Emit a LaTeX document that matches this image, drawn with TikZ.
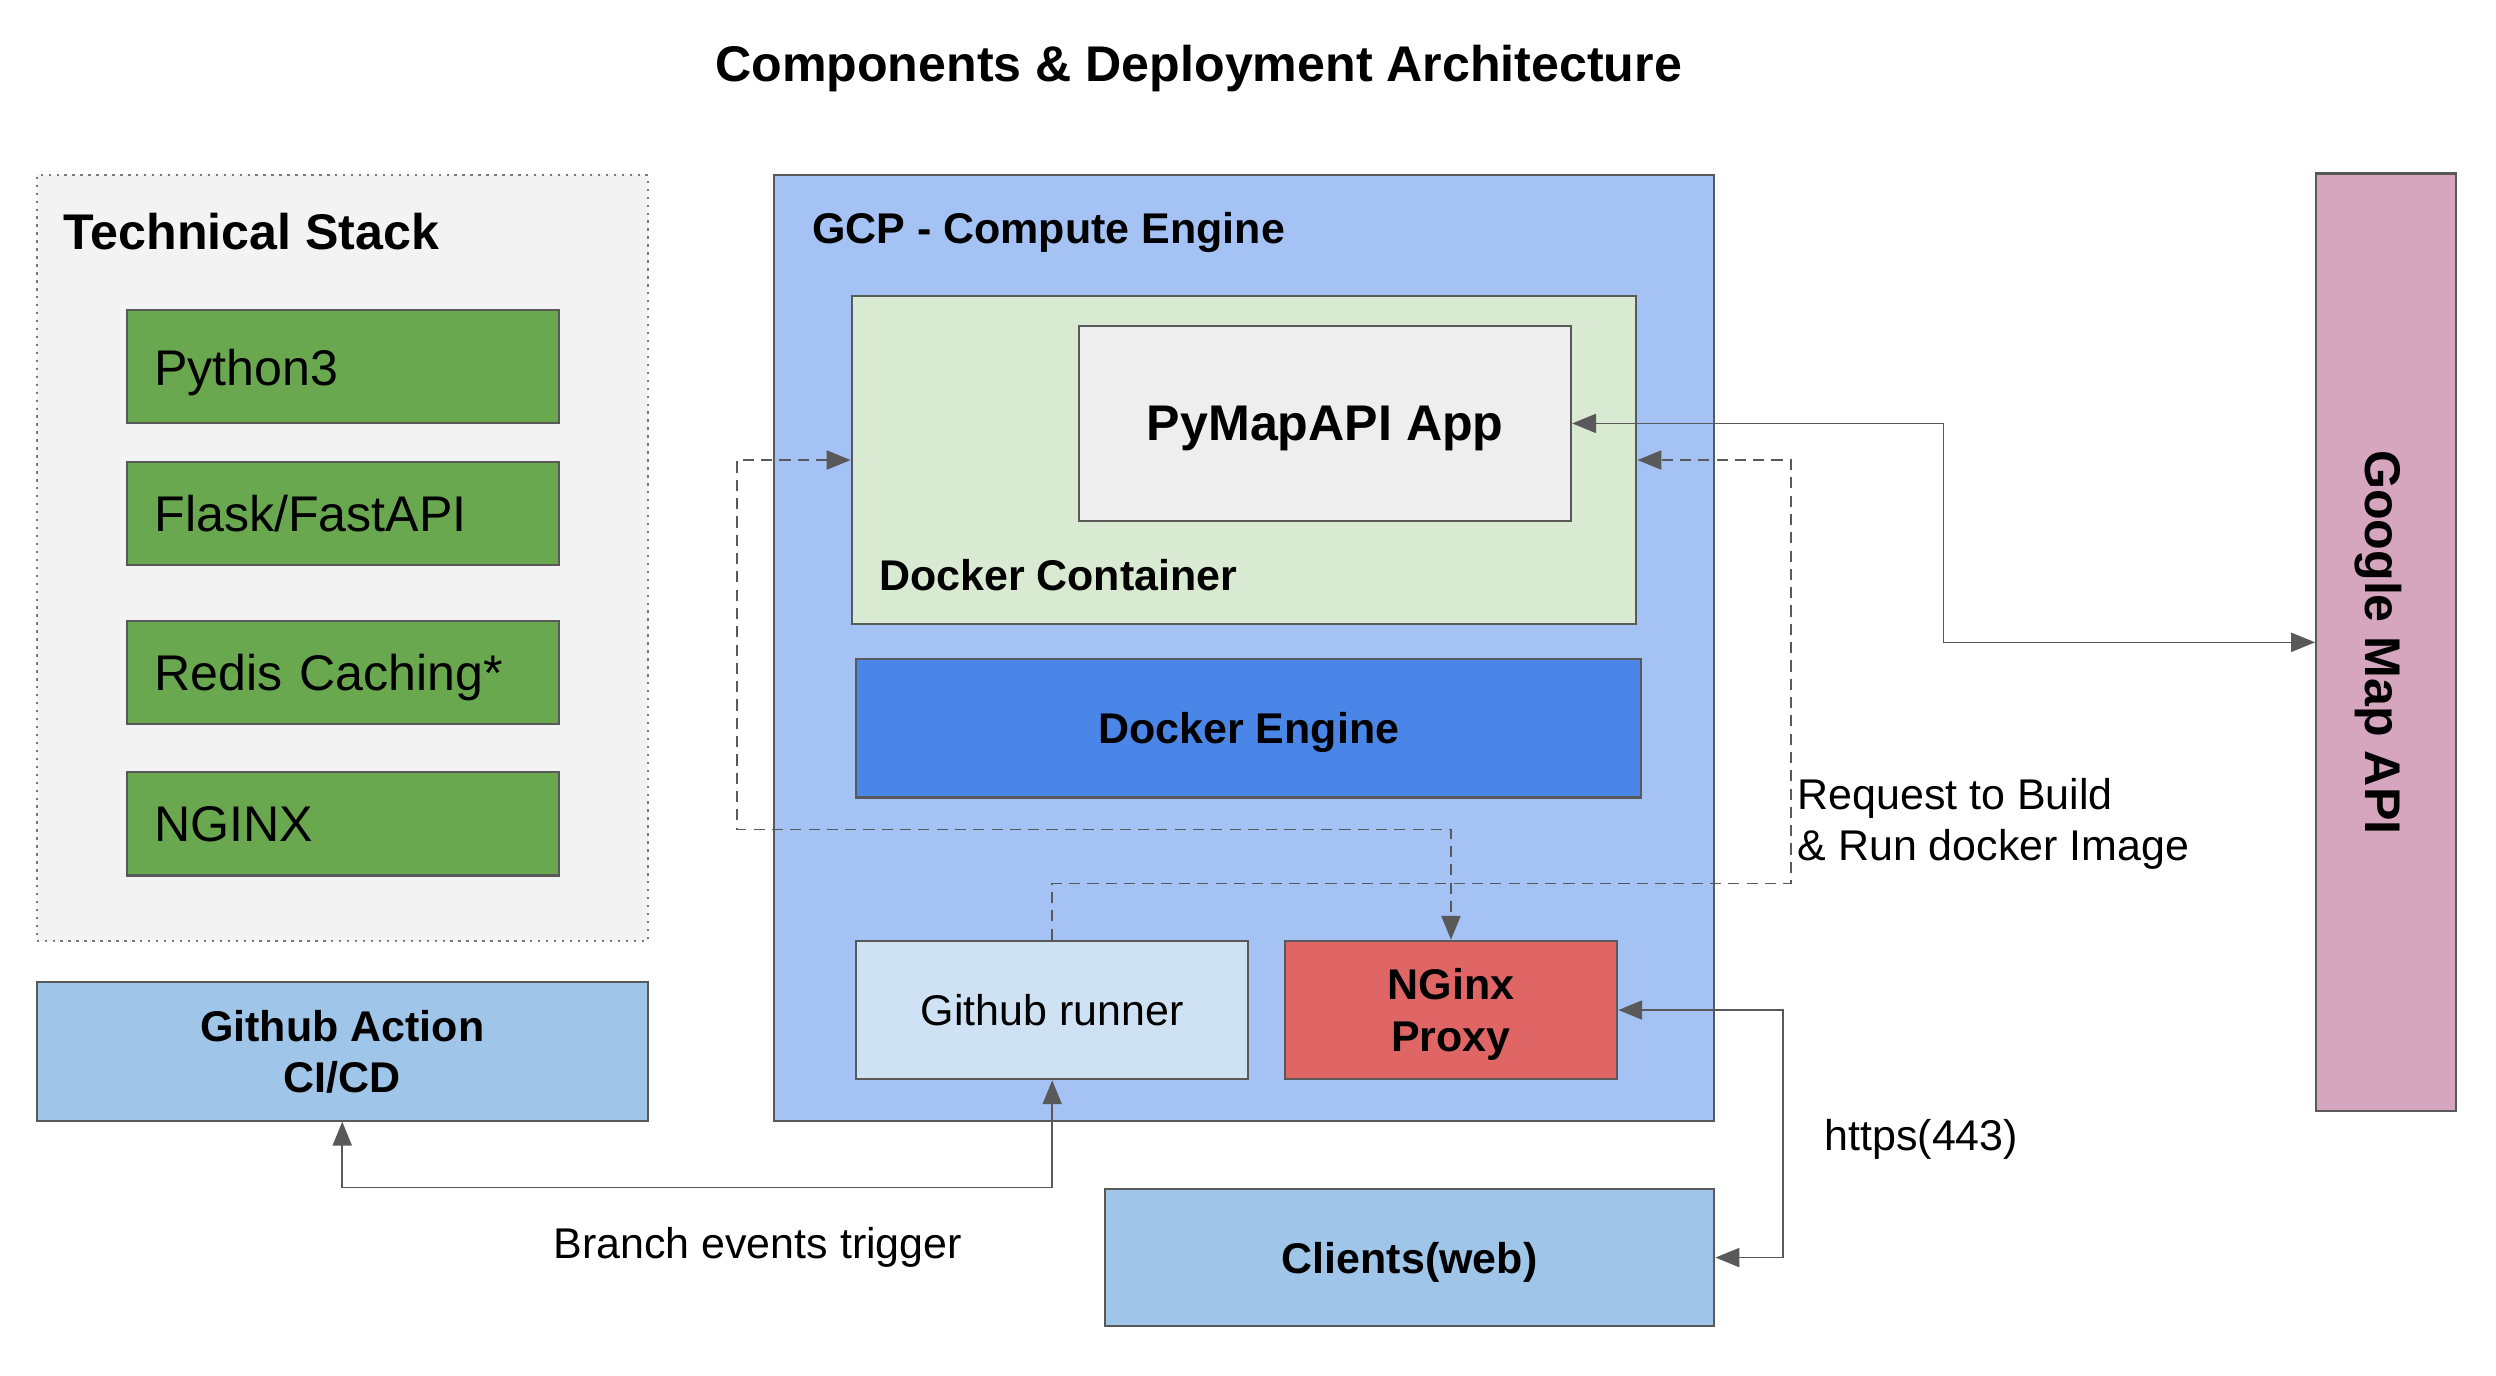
\documentclass[tikz,border=0pt]{standalone}
\usepackage{fontspec}
\setmainfont{Liberation Sans}
\usetikzlibrary{arrows.meta,positioning}

\definecolor{linegray}{HTML}{595959}
\definecolor{stackbg}{HTML}{F3F3F3}
\definecolor{stackgreen}{HTML}{6AA84F}
\definecolor{gcpblue}{HTML}{A4C2F4}
\definecolor{containergreen}{HTML}{D9EAD3}
\definecolor{appgray}{HTML}{EEEEEE}
\definecolor{engineblue}{HTML}{4A86E8}
\definecolor{runnerblue}{HTML}{CFE2F3}
\definecolor{proxyred}{HTML}{E06666}
\definecolor{clientblue}{HTML}{9FC5E8}
\definecolor{googlepink}{HTML}{D5A6BD}

\tikzset{
	box/.style={draw=linegray, line width=1.3pt, inner sep=0pt, text depth=0pt, align=center, font=\bfseries\fontsize{27}{32.5}\selectfont},
	stackitem/.style={box, fill=stackgreen, minimum width=271pt, text width=237pt, align=left, minimum height=65pt, font=\fontsize{31.5}{36}\selectfont},
	stackbox/.style={draw=linegray!80, fill=stackbg, line width=1.2pt, dash pattern=on 1.5pt off 3.5pt, inner sep=0pt},
	headtext/.style={inner sep=0pt, text depth=0pt, font=\bfseries\fontsize{31.5}{36}\selectfont},
	labeltext/.style={inner sep=0pt, align=left, font=\fontsize{27}{32}\selectfont},
	link/.style={draw=linegray, line width=1pt, >={Triangle[length=15pt,width=12pt]}},
	dashlink/.style={link, dash pattern=on 7pt off 4.5pt}
}

\begin{document}
\begin{tikzpicture}[x=1pt, y=-1pt]
	%%%%% START %%%%%
	\useasboundingbox (0, 0) rectangle (1568, 864.4);
	
	\node[headtext] (title) at (753, 40) {Components \& Deployment Architecture};
	
	% technical stack
	\node[stackbox, minimum width=384pt, minimum height=481pt] (stack) at (215, 350.5) {};
	\node[headtext, anchor=base west] (stacklabel) at (40, 157) {Technical Stack};
	\node[stackitem, minimum height=71pt] (python) at (215.5, 230.5) {Python3};
	\node[stackitem] (flask) at (215.5, 322.5) {Flask/FastAPI};
	\node[stackitem] (redis) at (215.5, 422.5) {Redis Caching*};
	\node[stackitem] (nginx) at (215.5, 517.5) {NGINX};
	
	\node[box, fill=clientblue, minimum width=384pt, minimum height=87pt] (action) at (215, 660.5) {Github Action\\CI/CD};
	
	% compute engine
	\node[box, fill=gcpblue, minimum width=591pt, minimum height=594pt] (gcp) at (781.5, 407) {};
	\node[labeltext, font=\bfseries\fontsize{27}{32}\selectfont, anchor=base west] (gcplabel) at (510, 152.7) {GCP - Compute Engine};
	
	\node[box, fill=containergreen, minimum width=493pt, minimum height=206pt] (container) at (781.5, 289) {};
	\node[labeltext, font=\bfseries\fontsize{27}{32}\selectfont, anchor=base west] (containerlabel) at (552, 370.7) {Docker Container};
	\node[box, fill=appgray, minimum width=309pt, minimum height=122pt, font=\bfseries\fontsize{31.5}{36}\selectfont] (app) at (832.5, 266) {PyMapAPI App};
	
	\node[box, fill=engineblue, minimum width=493pt, minimum height=87pt] (engine) at (784.5, 457.5) {Docker Engine};
	
	\node[box, fill=runnerblue, minimum width=246pt, minimum height=87pt, font=\fontsize{27}{32}\selectfont] (runner) at (661, 634.5) {Github runner};
	\node[box, fill=proxyred, minimum width=209pt, minimum height=87pt] (proxy) at (911.5, 634.5) {NGinx\\Proxy};
	
	\node[box, fill=clientblue, minimum width=383pt, minimum height=86pt] (clients) at (885.5, 790) {Clients(web)};
	
	% google
	\node[box, fill=googlepink, minimum width=88pt, minimum height=589pt] (google) at (1499, 403.5) {};
	\node[headtext, rotate=-90] (googletext) at (1497.5, 403.5) {Google Map API};
	
	% connectors
	\coordinate (mapbend) at (1221, 403.5);
	\draw[link, <->] (app.east) -| (mapbend) -- (google.west);
	
	\coordinate (leftbend) at (463, 521);
	\draw[dashlink, <->] (container.west) -| (leftbend) -| (proxy.north);
	
	\coordinate (rightbend) at (1125, 555);
	\draw[dashlink, ->] (runner.north) |- (rightbend) |- (container.east);
	\node[labeltext, anchor=north west] (buildlabel) at (1129, 489) {Request to Build\\\& Run docker Image};
	
	\coordinate (httpsbend) at (1120, 700);
	\draw[link, <->] (proxy.east) -| (httpsbend) |- (clients.east);
	\node[labeltext, anchor=base west] (httpslabel) at (1146, 722.7) {https(443)};
	
	\coordinate (branchbend) at (438, 746);
	\draw[link, <->] (action.south) |- (branchbend) -| (runner.south);
	\node[labeltext, anchor=base] (branchlabel) at (476, 790.7) {Branch events trigger};
	%%%%% END %%%%%
\end{tikzpicture}
\end{document}
